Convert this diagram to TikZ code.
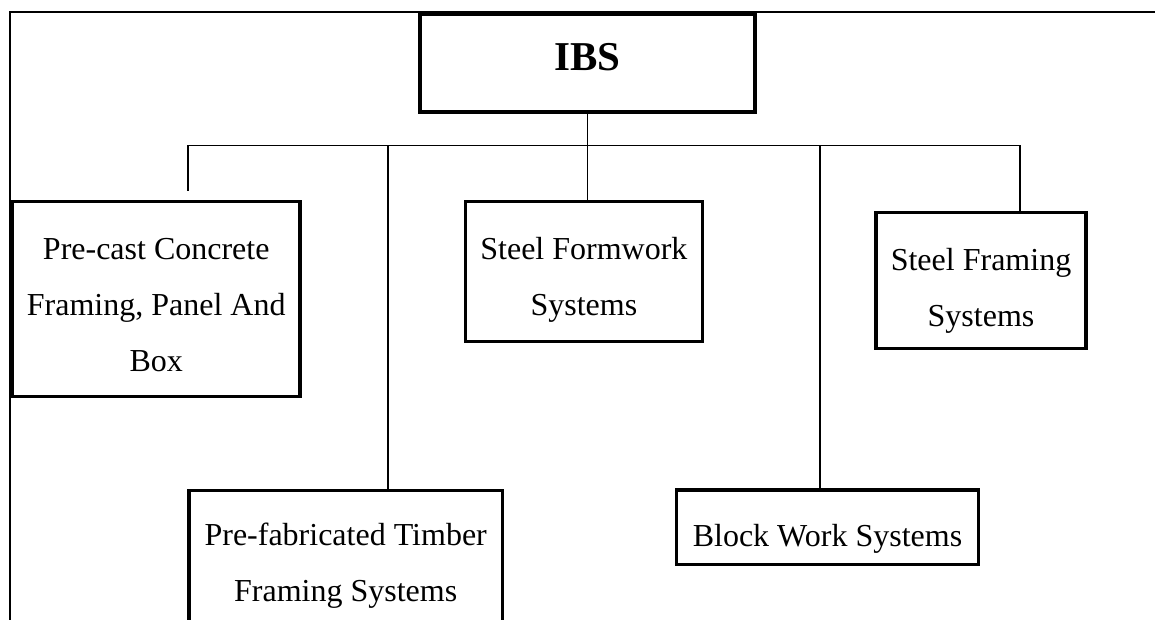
\documentclass[tikz,border=0pt]{standalone}
\usepackage{fontspec}
\setmainfont{Liberation Serif}
\tikzset{
  box/.style={draw, line width=3.4pt, inner sep=0pt, align=flush center, anchor=base,
              font=\fontsize{32}{56}\selectfont},
  conn/.style={line width=1.6pt},
  frameline/.style={line width=1.8pt}
}
\begin{document}
\begin{tikzpicture}[x=1pt,y=-1pt]
\useasboundingbox (0,0) rectangle (1155,619);
% outer frame (only top and left visible)
\coordinate (frBL) at (9.7,650);
\coordinate (frTL) at (9.7,11.7);
\coordinate (frTR) at (1180,11.7);
\draw[frameline] (frBL) -- (frTL) -- (frTR);

% boxes
\node[box, font=\fontsize{41}{48}\selectfont\bfseries, text width=335pt, text height=56pt, text depth=42pt]
  (ibs) at (587.5,70) {IBS};
\node[box, text width=287.5pt, text height=57.3pt, text depth=137.7pt]
  (precast) at (156.25,259) {Pre-cast Concrete\\Framing, Panel And\\Box};
\node[box, text width=237.2pt, text height=57.7pt, text depth=82.3pt]
  (formwork) at (583.9,259) {Steel Formwork\\Systems};
\node[box, text width=210.2pt, text height=57.3pt, text depth=78.3pt]
  (framing) at (981,270) {Steel Framing\\Systems};
\node[box, text width=301.6pt, text height=56pt, text depth=18.3pt]
  (block) at (827.5,546) {Block Work Systems};
\node[box, text width=313.3pt, text height=54.5pt, text depth=120pt]
  (prefab) at (345.7,545) {Pre-fabricated Timber\\Framing Systems};

% connectors
\coordinate (barL) at (188,145.3);
\coordinate (barR) at (1019.7,145.3);
\coordinate (dropL) at (188,190.7);
\coordinate (tPre) at (387.7,145.3);
\coordinate (tForm) at (587.3,145.3);
\coordinate (tBlock) at (820,145.3);
\draw[conn] (barL) -- (barR);
\draw[conn] (ibs.south) -- (ibs.south |- barL);
\draw[conn] (barL) -- (dropL);
\draw[conn] (tPre) -- (tPre |- prefab.north);
\draw[conn] (tForm) -- (tForm |- formwork.north);
\draw[conn] (tBlock) -- (tBlock |- block.north);
\draw[conn] (barR) -- (barR |- framing.north);
\end{tikzpicture}
\end{document}
